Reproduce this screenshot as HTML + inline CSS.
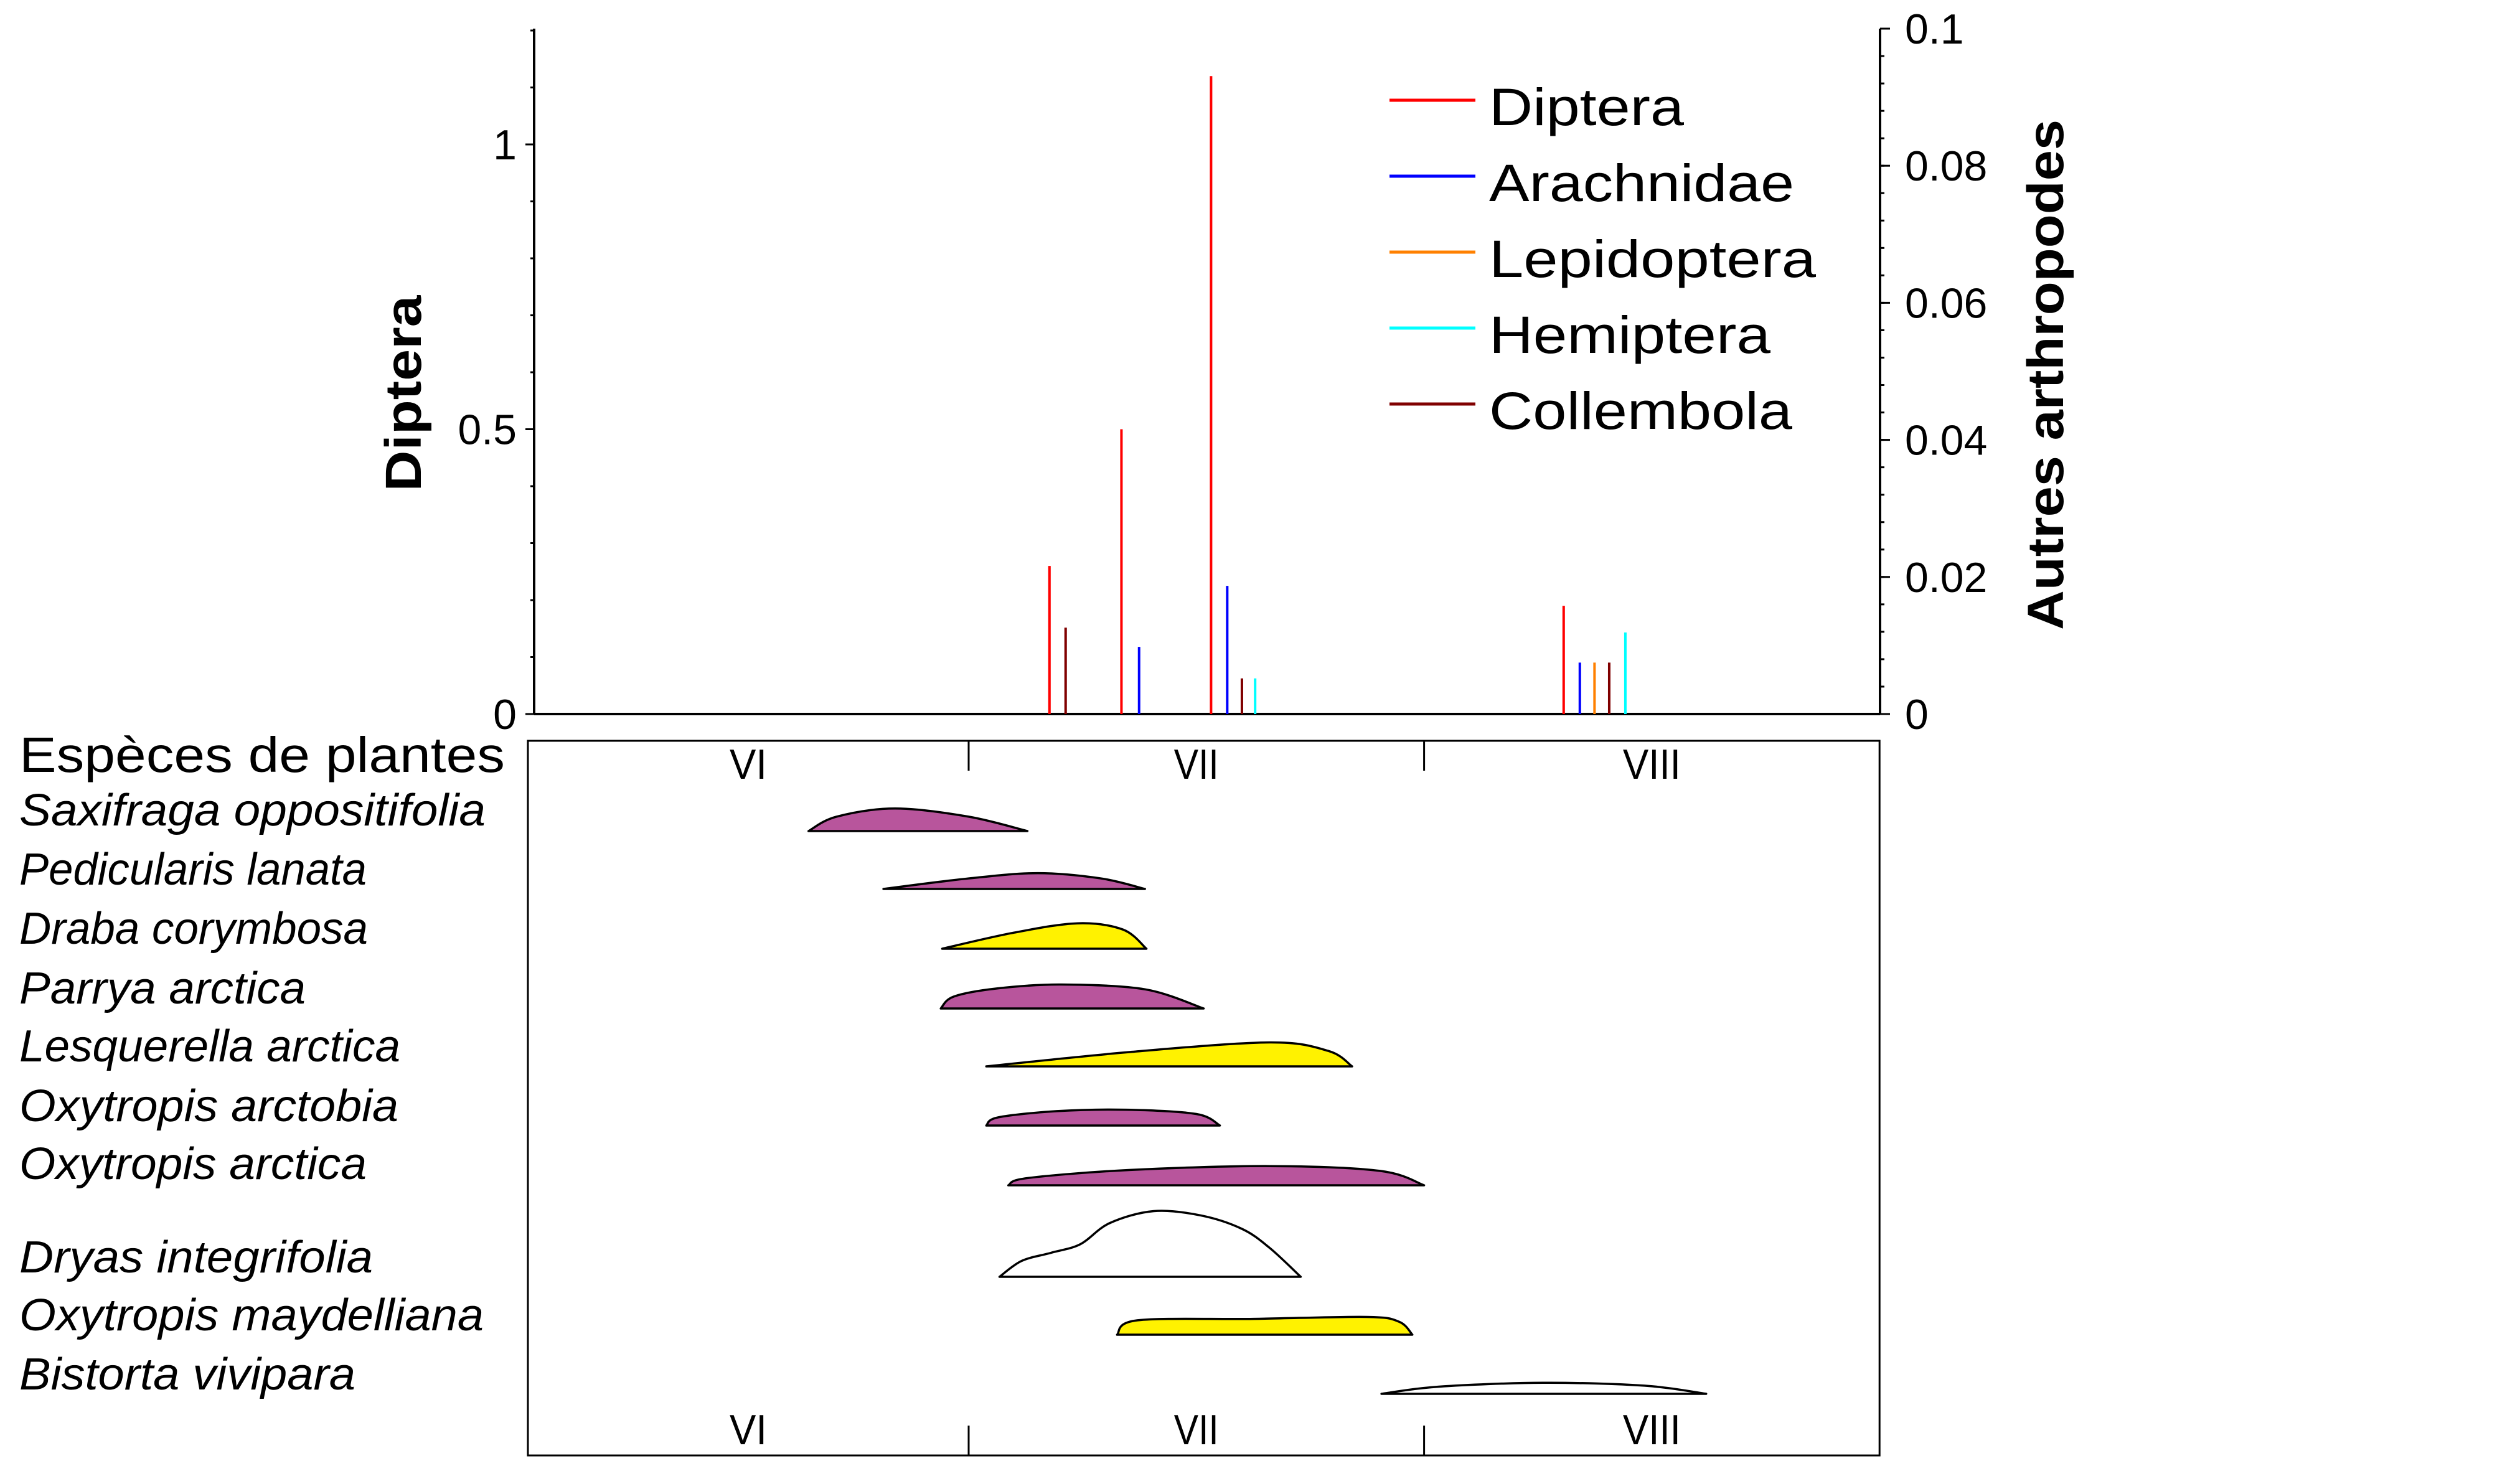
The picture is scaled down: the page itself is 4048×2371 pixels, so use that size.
<!DOCTYPE html>
<html><head><meta charset="utf-8">
<style>
html,body{margin:0;padding:0;background:#fff;}
svg{display:block;}
text{font-family:"Liberation Sans",sans-serif;fill:#000;}
</style></head>
<body>
<svg id="chart" width="4048" height="2371" viewBox="0 0 4048 2371" xmlns="http://www.w3.org/2000/svg">
<g id="topPanel"></g>
<g id="bottomPanel"></g>
</svg>
<script>
// ---- arthropod data (day since June 1, value) ----
const dipteraDays = [35.5, 40.4, 46.5, 70.5];
const dipteraVals = [0.26, 0.50, 1.12, 0.19];
const arachDays = [41.6, 47.6, 71.6];
const arachVals = [0.0098, 0.0187, 0.0075];
const lepiDays = [72.6];
const lepiVals = [0.0075];
const hemiDays = [49.5, 74.7];
const hemiVals = [0.0052, 0.0119];
const collDays = [36.6, 48.6, 73.6];
const collVals = [0.0126, 0.0052, 0.0075];
const leftTicks = [0, 0.5, 1];
const leftTickLabels = ["0", "0.5", "1"];
const rightTicks = [0, 0.02, 0.04, 0.06, 0.08, 0.1];
const rightTickLabels = ["0", "0.02", "0.04", "0.06", "0.08", "0.1"];
const months = ["VI", "VII", "VIII"];
const monthStarts = [0, 30, 61, 92];
// ---- plant flowering profiles [day, relative intensity] ----
const plantNames = ["Saxifraga oppositifolia","Pedicularis lanata","Draba corymbosa","Parrya arctica","Lesquerella arctica","Oxytropis arctobia","Oxytropis arctica","Dryas integrifolia","Oxytropis maydelliana","Bistorta vivipara"];
const plantColors = ["#b8559c","#b8559c","#fff200","#b8559c","#fff200","#b8559c","#b8559c","#ffffff","#fff200","#ffffff"];
const plantProfiles = [
 [[19.1,0],[21,0.3],[25,0.47],[30,0.3],[34,0]],
 [[24.2,0],[30,0.22],[34.7,0.33],[39,0.22],[42,0]],
 [[28.2,0],[33,0.33],[37.4,0.53],[40.5,0.4],[42.1,0]],
 [[28.1,0],[29,0.25],[32,0.42],[36.3,0.5],[42,0.4],[46,0]],
 [[31.2,0],[41,0.3],[50.5,0.5],[54.5,0.32],[56.1,0]],
 [[31.2,0],[32,0.17],[36,0.3],[40.7,0.33],[45.5,0.24],[47.1,0]],
 [[32.7,0],[34,0.15],[41,0.32],[50.5,0.4],[58,0.3],[61,0]],
 [[32.1,0],[33.6,0.33],[35.6,0.5],[37.6,0.68],[39.6,1.12],[42.6,1.37],[45.8,1.28],[48.6,1.0],[50.5,0.6],[52.6,0]],
 [[40.1,0],[41.5,0.3],[49.4,0.33],[57.1,0.37],[59.3,0.27],[60.2,0]],
 [[58.1,0],[62,0.15],[69.1,0.23],[76,0.17],[80.2,0]]
];

const NS="http://www.w3.org/2000/svg";
function mk(tag, attrs, parent){const el=document.createElementNS(NS,tag);for(const k in attrs)el.setAttribute(k,attrs[k]);parent.appendChild(el);return el;}
const topG=document.getElementById('topPanel'), botG=document.getElementById('bottomPanel');
const X0=848, PXDAY=23.6;
const xs=d=>X0+d*PXDAY;
const Y0=1147, yL=v=>Y0-v*915, yR=v=>Y0-v*11010;
const AXL=858, AXR=3020, AXT=46;

let e;
e=mk('line',{x1:AXL,y1:AXT,x2:AXL,y2:Y0,stroke:'#000','stroke-width':4},topG);


e=mk('line',{x1:AXR,y1:AXT,x2:AXR,y2:Y0,stroke:'#000','stroke-width':4},topG);


e=mk('line',{x1:AXL,y1:Y0,x2:AXR,y2:Y0,stroke:'#000','stroke-width':4},topG);


for(let i=1;i<=12;i++){const v=i/10;
 e=mk('line',{x1:AXL-6,y1:yL(v),x2:AXL,y2:yL(v),stroke:'#000','stroke-width':3},topG);
 
 }
leftTicks.forEach((v,i)=>{
 e=mk('line',{x1:AXL-14,y1:yL(v),x2:AXL,y2:yL(v),stroke:'#000','stroke-width':3},topG);
 
 
 e=mk('text',{x:AXL-28,y:yL(v)+24,'text-anchor':'end','font-size':68},topG);e.textContent=leftTickLabels[i];
 
 });
for(let i=1;i<=25;i++){const v=i*0.004;
 e=mk('line',{x1:AXR,y1:yR(v),x2:AXR+7,y2:yR(v),stroke:'#000','stroke-width':3},topG);
 
 }
rightTicks.forEach((v,i)=>{
 e=mk('line',{x1:AXR,y1:yR(v),x2:AXR+16,y2:yR(v),stroke:'#000','stroke-width':3},topG);
 
 
 e=mk('text',{x:AXR+40,y:yR(v)+24,'font-size':68},topG);e.textContent=rightTickLabels[i];
 
 });
e=mk('text',{x:0,y:0,'font-size':82,'font-weight':'bold','text-anchor':'middle',textLength:315,lengthAdjust:'spacingAndGlyphs',transform:'translate(676,632) rotate(-90)'},topG);e.textContent='Diptera';


e=mk('text',{x:0,y:0,'font-size':82,'font-weight':'bold','text-anchor':'middle',textLength:820,lengthAdjust:'spacingAndGlyphs',transform:'translate(3314,602) rotate(-90)'},topG);e.textContent='Autres arthropodes';



function bars(days, vals, scale, color, name){
 days.forEach((d,i)=>{
  const b=mk('line',{x1:xs(d),x2:xs(d),y1:Y0,y2:scale(vals[i]),stroke:color,'stroke-width':4},topG);
  
  
 });
}
bars(dipteraDays,dipteraVals,yL,'#ff0000','diptera-bar');
bars(arachDays,arachVals,yR,'#0000ff','arachnidae-bar');
bars(lepiDays,lepiVals,yR,'#ff8000','lepidoptera-bar');
bars(hemiDays,hemiVals,yR,'#00ffff','hemiptera-bar');
bars(collDays,collVals,yR,'#800000','collembola-bar');

const legNames=['Diptera','Arachnidae','Lepidoptera','Hemiptera','Collembola'];
const legColors=['#ff0000','#0000ff','#ff8000','#00ffff','#800000'];
const legW=[313,490,525,452,487];
legNames.forEach((n,i)=>{
 const yy=161+i*122;
 e=mk('line',{x1:2232,x2:2370,y1:yy,y2:yy,stroke:legColors[i],'stroke-width':5},topG);
 
 
 e=mk('text',{x:2392,y:yy+40,'font-size':84,textLength:legW[i],lengthAdjust:'spacingAndGlyphs'},topG);e.textContent=n;
 
 
});

const BT=1190, BB=2338;
e=mk('rect',{x:X0,y:BT,width:xs(92)-X0,height:BB-BT,fill:'none',stroke:'#000','stroke-width':3},botG);


[1,2].forEach(i=>{
 e=mk('line',{x1:xs(monthStarts[i]),x2:xs(monthStarts[i]),y1:BT,y2:BT+48,stroke:'#000','stroke-width':3},botG);
 
 
 e=mk('line',{x1:xs(monthStarts[i]),x2:xs(monthStarts[i]),y1:BB-48,y2:BB,stroke:'#000','stroke-width':3},botG);
 
 
});
const monthW=[60,72,93];
months.forEach((m,i)=>{
 const cx=(xs(monthStarts[i])+xs(monthStarts[i+1]))/2;
 [1251,2320].forEach(yy=>{
  e=mk('text',{x:cx,y:yy,'font-size':68,'text-anchor':'middle',textLength:monthW[i],lengthAdjust:'spacingAndGlyphs'},botG);e.textContent=m;
  
  
 });
});
e=mk('text',{x:31,y:1240,'font-size':80,textLength:780,lengthAdjust:'spacingAndGlyphs'},botG);e.textContent='Espèces de plantes';


const baselines=[1335,1428,1524,1620,1713,1808,1904,2051,2144,2239];
const labelY=[1326,1421,1516,1612,1705,1801,1894,2044,2137,2232];
const labelW=[749,558,560,460,612,609,558,568,746,540];
const HS=77;
function smoothPath(pts){
 let d='M'+pts[0][0]+','+pts[0][1];
 for(let i=0;i<pts.length-1;i++){
  const p0=pts[Math.max(0,i-1)],p1=pts[i],p2=pts[i+1],p3=pts[Math.min(pts.length-1,i+2)];
  const c1=[p1[0]+(p2[0]-p0[0])/6,p1[1]+(p2[1]-p0[1])/6];
  const c2=[p2[0]-(p3[0]-p1[0])/6,p2[1]-(p3[1]-p1[1])/6];
  d+=' C'+c1[0]+','+c1[1]+' '+c2[0]+','+c2[1]+' '+p2[0]+','+p2[1];
 }
 return d+' Z';
}
plantNames.forEach((n,i)=>{
 e=mk('text',{x:31,y:labelY[i],'font-size':72,'font-style':'italic',textLength:labelW[i],lengthAdjust:'spacingAndGlyphs'},botG);e.textContent=n;
 
 
 const pts=plantProfiles[i].map(p=>[xs(p[0]),baselines[i]-p[1]*HS]);
 e=mk('path',{d:smoothPath(pts),fill:plantColors[i],stroke:'#000','stroke-width':3.5,'stroke-linejoin':'round'},botG);
 
 
});
</script>
</body></html>
